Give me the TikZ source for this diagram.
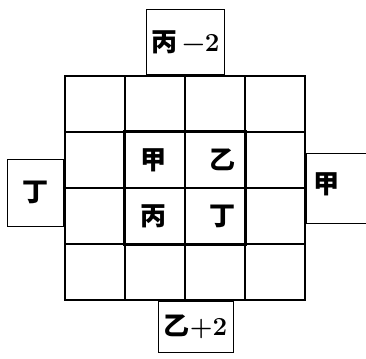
\documentclass[tikz,border=0pt]{standalone}
\usepackage{fontspec}
\newfontfamily\cjk{Noto Sans CJK SC}
\usetikzlibrary{positioning}

\begin{document}
\begin{tikzpicture}[
    x=1pt, y=-1pt,
    every node/.style={font=\cjk\bfseries\fontsize{26}{26}\selectfont},
    cell/.style={rectangle, draw, line width=1.3pt, minimum width=60pt,
                 minimum height=56pt, inner sep=0pt},
    tab/.style={rectangle, draw, line width=1.3pt, inner sep=0pt},
    core/.style={draw, line width=2.6pt}
]
    \useasboundingbox (0,0) rectangle (366,358);
    % 4x4 grid
    \foreach \i in {0,...,3}
        \foreach \j in {0,...,3}
            \node[cell] (c\i\j) at ({95+60*\i},{104+56*\j}) {};
    \draw[core] (c11.north west) rectangle (c22.south east);
    \node[xshift=-2pt] (jia) at (c11) {甲};
    \node[xshift=7pt] (yi) at (c21) {乙};
    \node[xshift=-2pt] (bing) at (c12) {丙};
    \node[xshift=7pt] (ding) at (c22) {丁};
    % tabs round the grid
    \node[tab, minimum width=78pt, minimum height=65pt, anchor=south]
        (toptab) at (c10.north east) {丙\,{\rmfamily\fontsize{26}{26}\selectfont −2}};
    \node[tab, minimum width=56pt, minimum height=67pt, anchor=east]
        (lefttab) at ([yshift=-4pt]c01.south west) {丁};
    \node[tab, minimum width=61pt, minimum height=70pt, anchor=west]
        (righttab) at (c31.south east) {};
    \node (rightlab) at ([xshift=-10pt, yshift=4pt]righttab) {甲};
    \node[tab, minimum width=75pt, minimum height=51pt, anchor=north]
        (bottab) at ([xshift=10pt]c13.south east) {乙{\rmfamily\fontsize{26}{26}\selectfont +2}};
\end{tikzpicture}
\end{document}
